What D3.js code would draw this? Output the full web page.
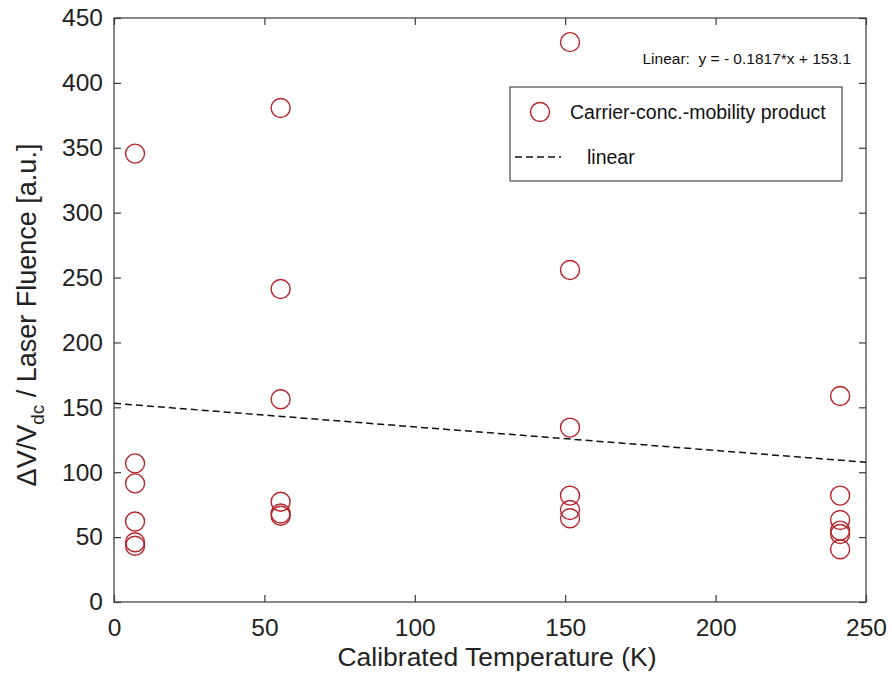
<!DOCTYPE html>
<html><head><meta charset="utf-8">
<script src="https://cdn.jsdelivr.net/npm/d3@7"></script>
<style>body{margin:0;background:#fff}svg{display:block;font-family:"Liberation Sans",Arial,sans-serif}</style>
</head><body><svg id="c" width="892" height="687"></svg>
<script>
const temps = [7, 7, 7, 7, 7, 7,
               55.4, 55.4, 55.4, 55.4, 55.4, 55.4,
               151.6, 151.6, 151.6, 151.6, 151.6, 151.6,
               241.4, 241.4, 241.4, 241.4, 241.4, 241.4];
const values = [345.5, 106.8, 91.4, 62, 46, 43.4,
                380.7, 241.2, 156.2, 77.3, 68.2, 66.5,
                431.4, 255.8, 134.4, 82, 70.9, 64.5,
                158.7, 82, 63.2, 55, 52.4, 40.6];
const fitSlope = -0.1817, fitIntercept = 153.1;
const fitX = [0, 250];
const xTicks = [0, 50, 100, 150, 200, 250];
const yTicks = [0, 50, 100, 150, 200, 250, 300, 350, 400, 450];
const seriesLabel = "Carrier-conc.-mobility product";
const fitLabel = "linear";
const eqText = "Linear:  y = - 0.1817*x + 153.1";

const svg = d3.select("#c");
const L = 114, R = 866, T = 18, B = 602;
const x = d3.scaleLinear().domain([0, 250]).range([L, R]);
const y = d3.scaleLinear().domain([0, 450]).range([B, T]);
const axCol = "#3a3a3a", red = "#b3242b", fs = 24.5;

svg.append("rect").attr("x", L).attr("y", T).attr("width", R - L).attr("height", B - T)
  .attr("fill", "none").attr("stroke", axCol).attr("stroke-width", 1.2);

const gx = svg.append("g").attr("transform", `translate(0,${B})`)
  .call(d3.axisBottom(x).tickValues(xTicks).tickSizeInner(-7).tickSizeOuter(0).tickPadding(17));
const gxt = svg.append("g").attr("transform", `translate(0,${T})`)
  .call(d3.axisTop(x).tickValues(xTicks).tickSizeInner(-7).tickSizeOuter(0).tickFormat(""));
const gy = svg.append("g").attr("transform", `translate(${L},0)`)
  .call(d3.axisLeft(y).tickValues(yTicks).tickSizeInner(-7).tickSizeOuter(0).tickPadding(11));
const gyr = svg.append("g").attr("transform", `translate(${R},0)`)
  .call(d3.axisRight(y).tickValues(yTicks).tickSizeInner(-7).tickSizeOuter(0).tickFormat(""));
[gx, gxt, gy, gyr].forEach(g => {
  g.select(".domain").remove();
  g.selectAll("line").attr("stroke", axCol).attr("stroke-width", 1.2);
  g.selectAll("text").attr("fill", "#222").style("font-size", fs + "px").style("font-family", '"Liberation Sans",Arial,sans-serif');
});
gx.selectAll("text").attr("dy", "0.71em");

const line = d3.line().x(d => x(d)).y(d => y(fitSlope * d + fitIntercept));
svg.append("path").datum(fitX).attr("d", line).attr("fill", "none")
  .attr("stroke", "#111").attr("stroke-width", 1.5).attr("stroke-dasharray", "7,4");

svg.append("g").selectAll("circle").data(temps.map((t, i) => [t, values[i]])).join("circle")
  .attr("cx", d => x(d[0])).attr("cy", d => y(d[1])).attr("r", 9.5)
  .attr("fill", "none").attr("stroke", red).attr("stroke-width", 1.4);

svg.append("text").attr("x", 851).attr("y", 64).attr("text-anchor", "end")
  .style("font-size", "15.5px").style("white-space", "pre").attr("fill", "#111").text(eqText);

svg.append("rect").attr("x", 510).attr("y", 87).attr("width", 332).attr("height", 94)
  .attr("fill", "#fff").attr("stroke", axCol).attr("stroke-width", 1.1);
svg.append("circle").attr("cx", 540).attr("cy", 112).attr("r", 9.5)
  .attr("fill", "none").attr("stroke", red).attr("stroke-width", 1.4);
svg.append("text").attr("x", 570).attr("y", 119).style("font-size", "19.5px").attr("fill", "#111").text(seriesLabel);
svg.append("line").attr("x1", 515).attr("x2", 561).attr("y1", 157).attr("y2", 157)
  .attr("stroke", "#111").attr("stroke-width", 1.5).attr("stroke-dasharray", "7,4");
svg.append("text").attr("x", 587).attr("y", 164).style("font-size", "19.5px").attr("fill", "#111").text(fitLabel);

svg.append("text").attr("x", 497).attr("y", 666).attr("text-anchor", "middle")
  .style("font-size", "26.5px").attr("fill", "#222").text("Calibrated Temperature (K)");
const yt = svg.append("text").attr("transform", `translate(36,${(T + B) / 2 + 5}) rotate(-90)`)
  .attr("text-anchor", "middle").style("font-size", "27px").attr("fill", "#222");
yt.append("tspan").text("ΔV/V");
yt.append("tspan").attr("dy", 8).style("font-size", "19px").text("dc");
yt.append("tspan").attr("dy", -8).text(" / Laser Fluence [a.u.]");
</script></body></html>
